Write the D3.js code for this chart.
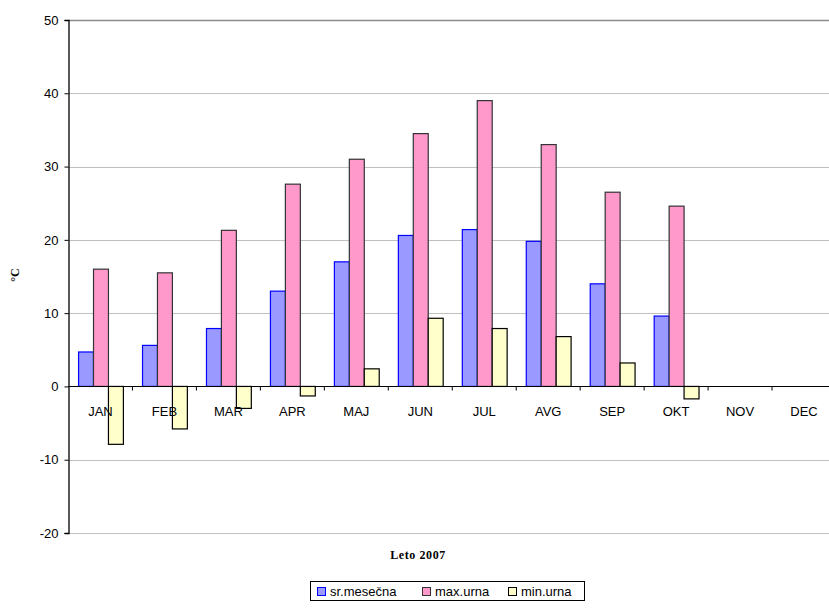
<!DOCTYPE html>
<html>
<head>
<meta charset="utf-8">
<script src="https://cdn.jsdelivr.net/npm/d3@7"></script>
<style>
  body { margin: 0; background: #fff; }
  svg { display: block; }
  text { font-family: "Liberation Sans", Arial, sans-serif; fill: #000; }
</style>
</head>
<body>
<div class="temp-chart"></div>
<script>
'use strict';

// Leto 2007 - mesecne temperature
const months = ['JAN', 'FEB', 'MAR', 'APR', 'MAJ', 'JUN', 'JUL', 'AVG', 'SEP', 'OKT', 'NOV', 'DEC'];
const seriesNames = ['sr.mesečna', 'max.urna', 'min.urna'];
const srMesecna = [4.7, 5.6, 7.9, 13.0, 17.0, 20.6, 21.4, 19.8, 14.0, 9.6, null, null];
const maxUrna = [16.0, 15.5, 21.3, 27.6, 31.0, 34.5, 39.0, 33.0, 26.5, 24.6, null, null];
const minUrna = [-7.9, -5.8, -3.0, -1.3, 2.4, 9.3, 7.9, 6.8, 3.2, -1.7, null, null];
const yTicks = [-20, -10, 0, 10, 20, 30, 40, 50];

const width = 829;
const height = 608;
const margin = {top: 20, right: -7, bottom: 75, left: 68.5};

const svg = d3.select('.temp-chart')
    .append('svg')
    .attr('width', width)
    .attr('height', height);

const x = d3.scaleBand()
    .domain(months)
    .range([margin.left, width - margin.right])
    .padding(0);

const xInner = d3.scaleBand()
    .domain(seriesNames)
    .range([0, x.bandwidth()])
    .paddingInner(0)
    .paddingOuter(0.64);

const y = d3.scaleLinear()
    .domain([-20, 50])
    .range([height - margin.bottom, margin.top]);

const fills = ['#9999FF', '#FF99CC', '#FFFFCC'];
const strokes = ['#0000FF', '#333333', '#000000'];

// gridlines
svg.append('g')
    .selectAll('line')
    .data(yTicks)
    .enter().append('line')
    .attr('x1', margin.left)
    .attr('x2', width)
    .attr('y1', (d) => Math.round(y(d)) + 0.5)
    .attr('y2', (d) => Math.round(y(d)) + 0.5)
    .attr('stroke', (d) => d === 50 ? '#8c8c8c' : '#c0c0c0')
    .attr('stroke-width', (d) => d === 50 ? 1.5 : 1);

// bars
const rows = months.map((m, i) => ({month: m, values: [srMesecna[i], maxUrna[i], minUrna[i]]}));

const groups = svg.selectAll('.month')
    .data(rows)
    .enter().append('g')
    .attr('class', 'month')
    .attr('transform', (d) => 'translate(' + x(d.month) + ',0)');

groups.selectAll('rect')
    .data((d) => d.values.map((v, k) => ({name: seriesNames[k], value: v, k: k})).filter((e) => e.value !== null))
    .enter().append('rect')
    .attr('x', (d) => xInner(d.name) + 0.5)
    .attr('width', xInner.bandwidth())
    .attr('y', (d) => y(Math.max(0, d.value)))
    .attr('height', (d) => Math.abs(y(d.value) - y(0)))
    .attr('fill', (d) => fills[d.k])
    .attr('stroke', (d) => strokes[d.k])
    .attr('stroke-width', 1.2);

// y axis
const yAxis = svg.append('g')
    .attr('transform', 'translate(' + margin.left + ',0)')
    .call(d3.axisLeft(y).tickValues(yTicks).tickSize(4).tickPadding(6).tickFormat((d) => String(d)));
yAxis.select('.domain').attr('stroke', '#000').attr('stroke-width', 1.3);
yAxis.selectAll('.tick line').attr('stroke', '#000');
yAxis.selectAll('text').style('font-size', '13px').style('font-family', '"Liberation Sans", Arial, sans-serif');

// x axis at zero
const xAxis = svg.append('g')
    .attr('transform', 'translate(0,' + (Math.round(y(0)) + 0.5) + ')');
xAxis.append('line')
    .attr('x1', margin.left)
    .attr('x2', width)
    .attr('stroke', '#000')
    .attr('stroke-width', 1.2);
xAxis.selectAll('.sep')
    .data(months.slice(1))
    .enter().append('line')
    .attr('class', 'sep')
    .attr('x1', (d) => x(d))
    .attr('x2', (d) => x(d))
    .attr('y1', 0)
    .attr('y2', 4)
    .attr('stroke', '#000');
xAxis.selectAll('.label')
    .data(months)
    .enter().append('text')
    .attr('class', 'label')
    .attr('x', (d) => x(d) + x.bandwidth() / 2)
    .attr('y', 29)
    .attr('text-anchor', 'middle')
    .style('font-size', '13px')
    .text((d) => d);

// titles
svg.append('text')
    .attr('transform', 'translate(19,275) rotate(-90)')
    .attr('text-anchor', 'middle')
    .style('font-family', '"Liberation Serif", "Times New Roman", serif')
    .style('font-weight', 'bold')
    .style('font-size', '12px')
    .text('°C');

svg.append('text')
    .attr('x', 418)
    .attr('y', 559)
    .attr('text-anchor', 'middle')
    .style('font-family', '"Liberation Serif", "Times New Roman", serif')
    .style('font-weight', 'bold')
    .style('font-size', '12px')
    .style('letter-spacing', '0.6px')
    .text('Leto 2007');

// legend
const legend = svg.append('g').attr('transform', 'translate(310,581)');
legend.append('rect')
    .attr('x', 0.5)
    .attr('y', 0.5)
    .attr('width', 274)
    .attr('height', 19)
    .attr('fill', '#fff')
    .attr('stroke', '#000');

const legendX = [7, 112, 198];
const item = legend.selectAll('.item')
    .data(seriesNames)
    .enter().append('g')
    .attr('class', 'item')
    .attr('transform', (d, i) => 'translate(' + legendX[i] + ',0)');
item.append('rect')
    .attr('x', 0.5)
    .attr('y', 6.5)
    .attr('width', 8)
    .attr('height', 8)
    .attr('fill', (d, i) => fills[i])
    .attr('stroke', (d, i) => strokes[i]);
item.append('text')
    .attr('x', 13)
    .attr('y', 15)
    .style('font-size', '13px')
    .text((d) => d);
</script>
</body>
</html>
